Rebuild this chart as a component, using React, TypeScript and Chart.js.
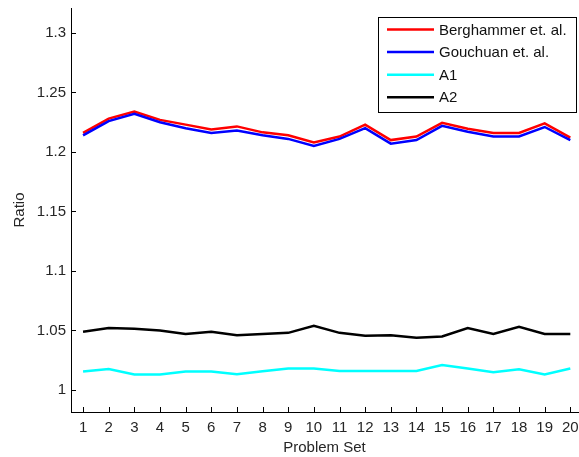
import React, { useEffect, useRef } from "react";
import { Chart, registerables } from "chart.js";

Chart.register(...registerables);

const problemSets = [1, 2, 3, 4, 5, 6, 7, 8, 9, 10, 11, 12, 13, 14, 15, 16, 17, 18, 19, 20];
const xTickLabels = ["1", "2", "3", "4", "5", "6", "7", "8", "9", "10", "11", "12", "13", "14", "15", "16", "17", "18", "19", "20"];
const yTickValues = [1, 1.05, 1.1, 1.15, 1.2, 1.25, 1.3];
const yTickLabels = ["1", "1.05", "1.1", "1.15", "1.2", "1.25", "1.3"];

const seriesNames = ["Berghammer et. al.", "Gouchuan et. al.", "A1", "A2"];
const berghammer = [1.216, 1.228, 1.234, 1.227, 1.223, 1.219, 1.2215, 1.2165, 1.214, 1.208, 1.213, 1.223, 1.210, 1.213, 1.2245, 1.2195, 1.216, 1.216, 1.224, 1.212];
const gouchuan = [1.214, 1.226, 1.232, 1.225, 1.220, 1.216, 1.218, 1.214, 1.211, 1.205, 1.211, 1.220, 1.207, 1.210, 1.222, 1.217, 1.213, 1.213, 1.221, 1.210];
const a1 = [1.0155, 1.0177, 1.013, 1.013, 1.0155, 1.0155, 1.0132, 1.0157, 1.018, 1.018, 1.016, 1.016, 1.016, 1.016, 1.021, 1.018, 1.015, 1.0175, 1.013, 1.018];
const a2 = [1.049, 1.052, 1.0515, 1.050, 1.047, 1.049, 1.046, 1.047, 1.048, 1.054, 1.048, 1.0455, 1.046, 1.044, 1.045, 1.052, 1.047, 1.053, 1.047, 1.047];
const seriesColors = ["#ff0000", "#0000ff", "#00ffff", "#000000"];

const FONT = "'Liberation Sans', Arial, Helvetica, sans-serif";

const tickMarksPlugin = {
  id: "inwardTicks",
  afterDraw(chart: any) {
    const ctx = chart.ctx;
    const { left, bottom } = chart.chartArea;
    const xs = chart.scales.x;
    const ys = chart.scales.y;
    ctx.save();
    ctx.strokeStyle = "#000";
    ctx.lineWidth = 1;
    ctx.beginPath();
    ys.ticks.forEach((t: any) => {
      const py = Math.round(ys.getPixelForValue(t.value)) + 0.5;
      ctx.moveTo(left, py);
      ctx.lineTo(left + 5, py);
    });
    xs.ticks.forEach((t: any) => {
      const px = Math.round(xs.getPixelForValue(t.value)) + 0.5;
      ctx.moveTo(px, bottom);
      ctx.lineTo(px, bottom - 5);
    });
    ctx.stroke();
    ctx.restore();
  },
};

const boxLegendPlugin = {
  id: "boxLegend",
  afterDraw(chart: any) {
    const ctx = chart.ctx;
    const right = chart.chartArea.right - 2;
    const w = 198;
    const h = 95;
    const x0 = right - w;
    const y0 = chart.chartArea.top + 9;
    ctx.save();
    ctx.fillStyle = "#fff";
    ctx.fillRect(x0, y0, w, h);
    ctx.strokeStyle = "#000";
    ctx.lineWidth = 1;
    ctx.strokeRect(Math.round(x0) + 0.5, Math.round(y0) + 0.5, w, h);
    ctx.font = `15px ${FONT}`;
    ctx.textBaseline = "middle";
    ctx.textAlign = "left";
    chart.data.datasets.forEach((ds: any, i: number) => {
      const cy = y0 + 12.5 + i * 22.6;
      ctx.strokeStyle = ds.borderColor;
      ctx.lineWidth = 2.5;
      ctx.beginPath();
      ctx.moveTo(x0 + 9, cy);
      ctx.lineTo(x0 + 56, cy);
      ctx.stroke();
      ctx.fillStyle = "#111";
      ctx.fillText(ds.label, x0 + 61, cy + 1);
    });
    ctx.restore();
  },
};

export default function App() {
  const canvasRef = useRef<HTMLCanvasElement | null>(null);

  useEffect(() => {
    document.body.style.margin = "0";
    const canvas = canvasRef.current;
    if (!canvas) return;
    const allSeries = [berghammer, gouchuan, a1, a2];
    const chart = new Chart(canvas, {
      type: "line",
      data: {
        datasets: allSeries.map((vals, i) => ({
          label: seriesNames[i],
          data: vals.map((v, j) => ({ x: problemSets[j], y: v })),
          borderColor: seriesColors[i],
          backgroundColor: seriesColors[i],
          borderWidth: 2.5,
          pointRadius: 0,
          tension: 0,
          fill: false,
          order: allSeries.length - i,
        })),
      },
      options: {
        responsive: false,
        animation: false,
        layout: { padding: { top: 8, right: 1, left: 0, bottom: 0 } },
        plugins: {
          legend: { display: false },
          tooltip: { enabled: false },
        },
        scales: {
          x: {
            type: "linear",
            min: 0.53,
            max: 20.3,
            afterBuildTicks: (scale: any) => {
              scale.ticks = problemSets.map((v) => ({ value: v }));
            },
            afterFit: (scale: any) => {
              scale.height = 45;
              scale.paddingLeft = 0;
              scale.paddingRight = 0;
            },
            grid: { display: false, drawTicks: false },
            border: { display: true, color: "#000", width: 1 },
            ticks: {
              autoSkip: false,
              maxRotation: 0,
              padding: 7,
              color: "#262626",
              font: { family: FONT, size: 15 },
              callback: (v: any) => {
                const idx = problemSets.indexOf(Number(v));
                return idx >= 0 ? xTickLabels[idx] : "";
              },
            },
            title: {
              display: true,
              text: "Problem Set",
              color: "#262626",
              font: { family: FONT, size: 15 },
              padding: { top: 0, bottom: 0 },
            },
          },
          y: {
            type: "linear",
            min: 0.9815,
            max: 1.321,
            afterBuildTicks: (scale: any) => {
              scale.ticks = yTickValues.map((v) => ({ value: v }));
            },
            afterFit: (scale: any) => {
              scale.width = 71;
              scale.paddingTop = 0;
              scale.paddingBottom = 0;
            },
            grid: { display: false, drawTicks: false },
            border: { display: true, color: "#000", width: 1 },
            ticks: {
              autoSkip: false,
              padding: 5,
              color: "#262626",
              font: { family: FONT, size: 15 },
              callback: (v: any) => {
                const idx = yTickValues.findIndex((t) => Math.abs(t - Number(v)) < 1e-9);
                return idx >= 0 ? yTickLabels[idx] : "";
              },
            },
            title: {
              display: true,
              text: "Ratio",
              color: "#262626",
              font: { family: FONT, size: 15 },
              padding: { top: 11, bottom: 0 },
            },
          },
        },
      },
      plugins: [tickMarksPlugin, boxLegendPlugin],
    });
    return () => chart.destroy();
  }, []);

  return (
    <div style={{ width: 579, height: 457, background: "#fff" }}>
      <canvas ref={canvasRef} width={579} height={457} style={{ display: "block" }} />
    </div>
  );
}
